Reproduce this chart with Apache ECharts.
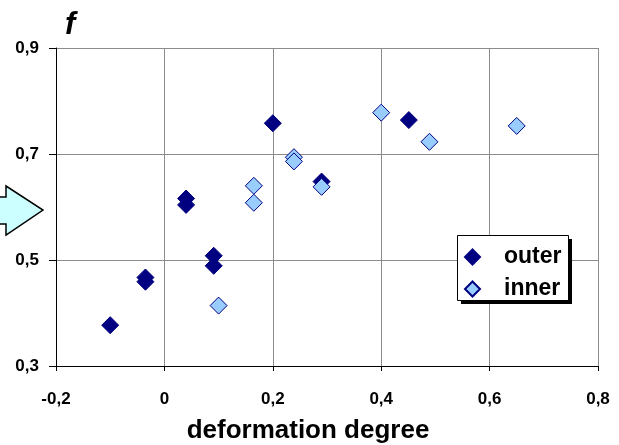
<!DOCTYPE html>
<html>
<head>
<meta charset="utf-8">
<script src="https://cdn.jsdelivr.net/npm/echarts@6/dist/echarts.min.js"></script>
<style>
  html, body { margin: 0; padding: 0; background: #fff; }
  #chart { width: 619px; height: 445px; }
</style>
</head>
<body>
<div id="chart"></div>
<script>
// data
var outerX = [-0.100, -0.035, -0.035, 0.040, 0.040, 0.091, 0.091, 0.200, 0.290, 0.451];
var outerY = [0.377, 0.467, 0.459, 0.616, 0.604, 0.508, 0.489, 0.758, 0.648, 0.764];
var innerX = [0.100, 0.165, 0.165, 0.239, 0.239, 0.290, 0.400, 0.489, 0.650];
var innerY = [0.414, 0.640, 0.608, 0.694, 0.686, 0.638, 0.778, 0.723, 0.753];
var xTicks = [-0.2, 0, 0.2, 0.4, 0.6, 0.8];
var yTicks = [0.3, 0.5, 0.7, 0.9];

function pairs(xs, ys) {
  var out = [];
  for (var i = 0; i < xs.length; i++) out.push([xs[i], ys[i]]);
  return out;
}
// 0,2 style labels
function fmt(v) {
  var r = Math.round(v * 10) / 10;
  if (r === 0) return '0';
  return r.toFixed(1).replace('.', ',');
}

var chart = echarts.init(document.getElementById('chart'));
var font = '"Liberation Sans", Arial, sans-serif';

var option = {
  animation: false,
  backgroundColor: '#fff',
  grid: { left: 56, right: 21, top: 48, bottom: 79, outerBoundsMode: 'none' },
  xAxis: {
    type: 'value',
    min: xTicks[0],
    max: xTicks[xTicks.length - 1],
    interval: 0.2,
    name: 'deformation degree',
    nameLocation: 'middle',
    nameGap: 52,
    nameTextStyle: { color: '#000', fontFamily: font, fontWeight: 'bold', fontSize: 26, padding: [0, 38, 0, 0] },
    axisLine: { onZero: false, lineStyle: { color: '#000', width: 1 } },
    axisTick: { show: true, length: 5, lineStyle: { color: '#000' } },
    axisLabel: { formatter: fmt, color: '#000', fontFamily: font, fontWeight: 'bold', fontSize: 17, margin: 25 },
    splitLine: { show: true, lineStyle: { color: '#8c8c8c', width: 1 } }
  },
  yAxis: {
    type: 'value',
    min: yTicks[0],
    max: yTicks[yTicks.length - 1],
    interval: 0.2,
    axisLine: { show: true, onZero: false, lineStyle: { color: '#000', width: 1 } },
    axisTick: { show: true, length: 7, lineStyle: { color: '#000' } },
    axisLabel: { formatter: fmt, color: '#000', fontFamily: font, fontWeight: 'bold', fontSize: 17, margin: 17 },
    splitLine: { show: true, lineStyle: { color: '#8c8c8c', width: 1 } }
  },
  legend: {
    orient: 'vertical',
    left: 457,
    top: 235,
    padding: [10, 6, 1, 7],
    itemWidth: 15,
    itemHeight: 15,
    itemGap: 8,
    z: 10,
    textStyle: { color: '#000', fontFamily: font, fontWeight: 'bold', fontSize: 23, lineHeight: 24, padding: [0, 0, 0, 19] },
    data: ['outer', 'inner']
  },
  graphic: [
    {
      type: 'text',
      left: 65,
      top: 10,
      style: { text: 'f', fill: '#000', font: 'italic bold 31px ' + font }
    },
    {
      type: 'polygon',
      shape: { points: [[-10, 197], [6, 197], [6, 186], [43, 210], [6, 235], [6, 224], [-10, 224]] },
      style: { fill: '#ccffff', stroke: '#000', lineWidth: 1.5 }
    },
    // legend box with a hard black shadow
    {
      type: 'rect', z: 5,
      shape: { x: 461, y: 239, width: 111, height: 65 },
      style: { fill: '#000' }
    },
    {
      type: 'rect', z: 6,
      shape: { x: 457.5, y: 235.5, width: 111, height: 65 },
      style: { fill: '#fff', stroke: '#000', lineWidth: 1 }
    }
  ],
  series: [
    {
      name: 'outer',
      type: 'scatter',
      symbol: 'diamond',
      symbolSize: 17,
      itemStyle: { color: '#000080', borderColor: '#000080', borderWidth: 1, opacity: 1 },
      data: pairs(outerX, outerY)
    },
    {
      name: 'inner',
      type: 'scatter',
      symbol: 'diamond',
      symbolSize: 17,
      itemStyle: { color: '#99ccff', borderColor: '#000080', borderWidth: 1, opacity: 1 },
      data: pairs(innerX, innerY)
    }
  ]
};
chart.setOption(option);
</script>
</body>
</html>
